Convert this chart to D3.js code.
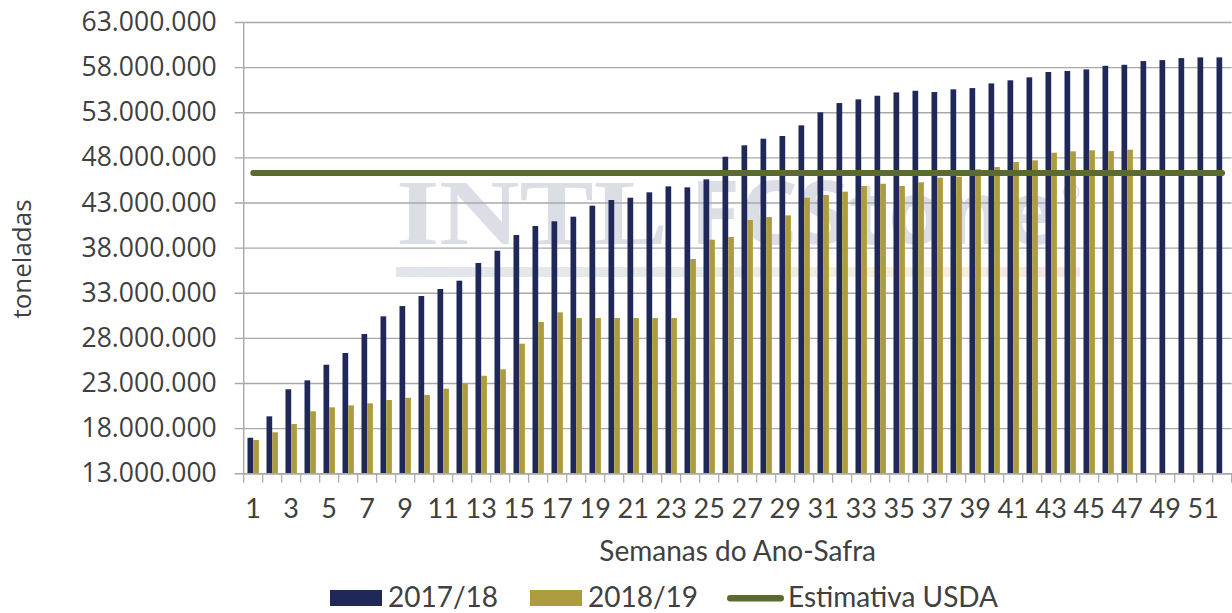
<!DOCTYPE html>
<html>
<head>
<meta charset="utf-8">
<script src="https://cdnjs.cloudflare.com/ajax/libs/d3/7.8.5/d3.min.js"></script>
<style>
  body { margin: 0; background: #fff; }
  svg { display: block; }
</style>
</head>
<body>
<div class="svg-container"></div>
<script>
// semanas do ano-safra
const weeks = d3.range(1, 53);
const seriesNames = ['2017/18', '2018/19'];
const exports1718 = [
  16940000, 19310000, 22310000, 23300000, 25030000, 26330000, 28430000, 30390000, 31530000, 32640000,
  33420000, 34340000, 36300000, 37660000, 39400000, 40400000, 40920000, 41430000, 42650000, 43280000,
  43530000, 44130000, 44790000, 44680000, 45570000, 48070000, 49340000, 50070000, 50370000, 51550000,
  52990000, 54020000, 54430000, 54830000, 55200000, 55380000, 55240000, 55540000, 55680000, 56200000,
  56540000, 56870000, 57460000, 57570000, 57750000, 58150000, 58260000, 58670000, 58780000, 59000000,
  59080000, 59080000
];
const exports1819 = [
  16690000, 17540000, 18460000, 19870000, 20310000, 20530000, 20750000, 21120000, 21370000, 21670000,
  22370000, 22930000, 23810000, 24520000, 27360000, 29760000, 30830000, 30200000, 30200000, 30200000,
  30200000, 30200000, 30200000, 36740000, 38880000, 39180000, 41060000, 41390000, 41580000, 43530000,
  43830000, 44200000, 44830000, 45080000, 44830000, 45240000, 45750000, 45860000, 46680000, 46930000,
  47490000, 47670000, 48520000, 48670000, 48780000, 48700000, 48850000
];
const usdaEstimate = 46270000;
const yTicks = [13000000, 18000000, 23000000, 28000000, 33000000, 38000000, 43000000, 48000000, 53000000, 58000000, 63000000];

const colors = { '2017/18': '#1f2859', '2018/19': '#ad9b3f', usda: '#5b6b30' };
const textColor = '#404040';
const gridColor = '#a8a8a8';

const outerWidth = 1232;
const outerHeight = 613;
const margin = { left: 243.7, top: 22, right: 0.3, bottom: 139.7 };

const svg = d3.select('.svg-container')
  .append('svg')
  .attr('width', outerWidth)
  .attr('height', outerHeight);

const xScale = d3.scaleBand()
  .domain(weeks)
  .range([margin.left, outerWidth - margin.right])
  .padding(0);

const xInner = d3.scaleBand()
  .domain(seriesNames)
  .range([0, xScale.bandwidth()])
  .paddingInner(0)
  .paddingOuter(0.667);

const yScale = d3.scaleLinear()
  .domain([13000000, 63000000])
  .range([outerHeight - margin.bottom, margin.top]);

const ptBR = d3.formatLocale({ decimal: ',', thousands: '.', grouping: [3], currency: ['R$', ''] });
const fmt = ptBR.format(',d');

// watermark
const defs = svg.append('defs');
const grad = defs.append('linearGradient').attr('id', 'wmBar');
grad.append('stop').attr('offset', '0%').attr('stop-color', '#e2e5ed');
grad.append('stop').attr('offset', '45%').attr('stop-color', '#e6ebe6');
grad.append('stop').attr('offset', '70%').attr('stop-color', '#f6f0e0');
grad.append('stop').attr('offset', '100%').attr('stop-color', '#f5e7e2');

const wm = svg.append('g').attr('id', 'watermark');
wm.append('text')
  .attr('x', 396).attr('y', 244)
  .attr('textLength', 272).attr('lengthAdjust', 'spacingAndGlyphs')
  .style('font-family', '"Liberation Serif", "DejaVu Serif", serif')
  .style('font-weight', 'bold')
  .style('font-size', '94px')
  .attr('fill', '#dcdee5')
  .text('INTL');
wm.append('text')
  .attr('x', 690).attr('y', 244)
  .attr('textLength', 368).attr('lengthAdjust', 'spacingAndGlyphs')
  .style('font-family', '"Open Sans", sans-serif')
  .style('font-weight', 'bold')
  .style('font-size', '88px')
  .attr('fill', '#dcdee5')
  .text('FCStone');
wm.append('text')
  .attr('x', 1062).attr('y', 200)
  .style('font-family', '"Open Sans", sans-serif')
  .style('font-size', '22px')
  .attr('fill', '#dcdee5')
  .text('®');
wm.append('rect')
  .attr('x', 396).attr('y', 267).attr('width', 684).attr('height', 10)
  .attr('fill', 'url(#wmBar)');

// grid + y axis
const yAxis = d3.axisLeft(yScale)
  .tickValues(yTicks)
  .tickSize(-(outerWidth - margin.right - margin.left) - 0)
  .tickPadding(18)
  .tickFormat(fmt);

const yG = svg.append('g')
  .attr('id', 'y-axis')
  .attr('transform', `translate(${margin.left}, 0)`)
  .call(yAxis);
yG.select('.domain').remove();
yG.selectAll('.tick line')
  .attr('x1', -9)
  .attr('stroke', gridColor)
  .attr('stroke-width', 1.4);
yG.selectAll('.tick text')
  .attr('x', -27)
  .style('font-family', '"Open Sans", sans-serif')
  .style('font-size', '26.5px')
  .attr('fill', textColor);

svg.append('line')
  .attr('x1', margin.left).attr('x2', margin.left)
  .attr('y1', yScale(63000000)).attr('y2', yScale(13000000))
  .attr('stroke', gridColor)
  .attr('stroke-width', 1.4);

// bars
const barData = weeks.map((w, i) => ({ week: w, values: [
  { key: '2017/18', value: exports1718[i] },
  { key: '2018/19', value: exports1819[i] }
].filter(d => d.value !== undefined) }));

const groups = svg.append('g').attr('id', 'bars')
  .selectAll('g')
  .data(barData)
  .enter()
  .append('g')
  .attr('transform', d => `translate(${xScale(d.week)}, 0)`);

groups.selectAll('rect')
  .data(d => d.values)
  .enter()
  .append('rect')
  .attr('x', d => xInner(d.key))
  .attr('width', xInner.bandwidth())
  .attr('y', d => yScale(d.value))
  .attr('height', d => yScale(13000000) - yScale(d.value))
  .attr('fill', d => colors[d.key]);

// x axis
const xAxis = d3.axisBottom(xScale)
  .tickSize(0)
  .tickPadding(26)
  .tickFormat(d => d % 2 === 1 ? d : '');

const xG = svg.append('g')
  .attr('id', 'x-axis')
  .attr('transform', `translate(0, ${yScale(13000000)})`)
  .call(xAxis);
xG.select('.domain')
  .attr('stroke', gridColor)
  .attr('stroke-width', 1.4);
xG.selectAll('.tick text')
  .style('font-family', 'Lato, sans-serif')
  .style('font-size', '27px')
  .attr('fill', textColor);

// category separators under the axis
xG.selectAll('.sep')
  .data(weeks.concat([53]))
  .enter()
  .append('line')
  .attr('class', 'sep')
  .attr('x1', d => d === 53 ? xScale(52) + xScale.bandwidth() : xScale(d))
  .attr('x2', d => d === 53 ? xScale(52) + xScale.bandwidth() : xScale(d))
  .attr('y1', 0).attr('y2', 9.5)
  .attr('stroke', gridColor)
  .attr('stroke-width', 1.2);

// USDA estimate line
const usdaLine = d3.line()
  .x(d => xScale(d) + xScale.bandwidth() / 2)
  .y(() => yScale(usdaEstimate));

svg.append('path')
  .datum([weeks[0], weeks[weeks.length - 1]])
  .attr('d', usdaLine)
  .attr('fill', 'none')
  .attr('stroke', colors.usda)
  .attr('stroke-width', 5.8)
  .attr('stroke-linecap', 'round');

// axis titles
svg.append('text')
  .attr('x', (margin.left + outerWidth - margin.right) / 2)
  .attr('y', 561)
  .attr('text-anchor', 'middle')
  .style('font-family', 'Lato, sans-serif')
  .style('font-size', '28px')
  .attr('fill', textColor)
  .text('Semanas do Ano-Safra');

svg.append('text')
  .attr('transform', 'translate(31, 259) rotate(-90)')
  .attr('text-anchor', 'middle')
  .style('font-family', '"Open Sans", sans-serif')
  .style('font-size', '26px')
  .attr('fill', textColor)
  .text('toneladas');

// legend
const legend = svg.append('g').attr('id', 'legend');
const firstLegend = legend.append('g').attr('transform', 'translate(330, 590)');
firstLegend.append('rect').attr('width', 52).attr('height', 16).attr('fill', colors['2017/18']);
firstLegend.append('text').attr('x', 58).attr('y', 17)
  .style('font-family', 'Lato, sans-serif').style('font-size', '28px')
  .attr('fill', textColor).text('2017/18');

const secondLegend = legend.append('g').attr('transform', 'translate(530, 590)');
secondLegend.append('rect').attr('width', 52).attr('height', 16).attr('fill', colors['2018/19']);
secondLegend.append('text').attr('x', 58).attr('y', 17)
  .style('font-family', 'Lato, sans-serif').style('font-size', '28px')
  .attr('fill', textColor).text('2018/19');

const thirdLegend = legend.append('g').attr('transform', 'translate(727, 590)');
thirdLegend.append('line')
  .attr('x1', 3.3).attr('x2', 53.7).attr('y1', 8.3).attr('y2', 8.3)
  .attr('stroke', colors.usda).attr('stroke-width', 6.5).attr('stroke-linecap', 'round');
thirdLegend.append('text').attr('x', 61).attr('y', 17)
  .style('font-family', 'Lato, sans-serif').style('font-size', '28px')
  .attr('fill', textColor).text('Estimativa USDA');
</script>
</body>
</html>
